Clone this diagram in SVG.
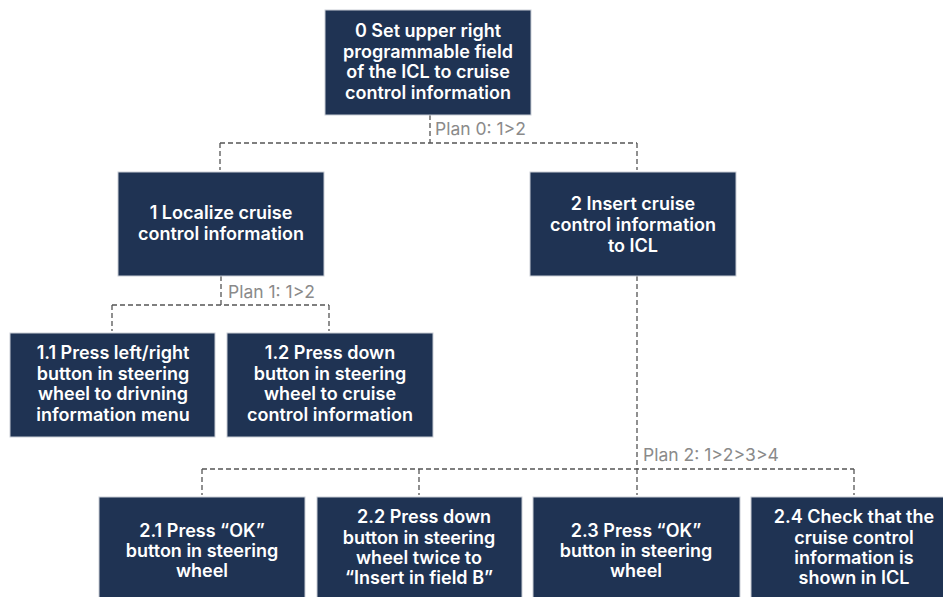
<svg xmlns="http://www.w3.org/2000/svg" width="943" height="597" viewBox="0 0 943 597">
  <style>
    .box { fill: #1f3353; stroke: #c9ced6; stroke-width: 1; }
    .lbl { font-family: Inter, "Liberation Sans", sans-serif; font-weight: 600; font-size: 18px; fill: #ffffff; text-anchor: middle; }
    .plan { font-family: Inter, "Liberation Sans", sans-serif; font-size: 17.5px; fill: #8a8a8a; }
    .conn { fill: none; stroke: #555555; stroke-width: 1.3; stroke-dasharray: 5 3; }
  </style>
  <rect width="943" height="597" fill="#ffffff"/>

  <g id="connectors">
    <!-- plan 0 -->
    <path class="conn" d="M430 115 V143 M220 143 H637 M220 143 V170 M637 143 V170"/>
    <!-- plan 1 -->
    <path class="conn" d="M221 276 V305 M112 305 H329 M112 305 V331 M329 305 V331"/>
    <!-- plan 2 -->
    <path class="conn" d="M637 276 V469 M202 469 H854 M202 469 V495 M419 469 V495 M637 469 V495 M854 469 V495"/>
  </g>

  <g id="plans">
    <text class="plan" x="435" y="135">Plan 0: 1&gt;2</text>
    <text class="plan" x="228" y="298">Plan 1: 1&gt;2</text>
    <text class="plan" x="643" y="461">Plan 2: 1&gt;2&gt;3&gt;4</text>
  </g>

  <g id="n0">
    <rect class="box" x="325" y="10" width="206" height="105"/>
    <text class="lbl" x="428" y="37">0 Set upper right</text>
    <text class="lbl" x="428" y="58">programmable field</text>
    <text class="lbl" x="428" y="78">of the ICL to cruise</text>
    <text class="lbl" x="428" y="99">control information</text>
  </g>

  <g id="n1">
    <rect class="box" x="118" y="172" width="206" height="104"/>
    <text class="lbl" x="221" y="219">1 Localize cruise</text>
    <text class="lbl" x="221" y="240">control information</text>
  </g>

  <g id="n2">
    <rect class="box" x="530" y="172" width="206" height="104"/>
    <text class="lbl" x="633" y="210">2 Insert cruise</text>
    <text class="lbl" x="633" y="231">control information</text>
    <text class="lbl" x="633" y="252">to ICL</text>
  </g>

  <g id="n1_1">
    <rect class="box" x="10" y="333" width="205" height="104"/>
    <text class="lbl" x="113" y="359">1.1 Press left/right</text>
    <text class="lbl" x="113" y="380">button in steering</text>
    <text class="lbl" x="113" y="400">wheel to drivning</text>
    <text class="lbl" x="113" y="421">information menu</text>
  </g>

  <g id="n1_2">
    <rect class="box" x="227" y="333" width="206" height="104"/>
    <text class="lbl" x="330" y="359">1.2 Press down</text>
    <text class="lbl" x="330" y="380">button in steering</text>
    <text class="lbl" x="330" y="400">wheel to cruise</text>
    <text class="lbl" x="330" y="421">control information</text>
  </g>

  <g id="n2_1">
    <rect class="box" x="99" y="497" width="206" height="110"/>
    <text class="lbl" x="202" y="537">2.1 Press “OK”</text>
    <text class="lbl" x="202" y="557">button in steering</text>
    <text class="lbl" x="202" y="577">wheel</text>
  </g>

  <g id="n2_2">
    <rect class="box" x="317" y="497" width="205" height="110"/>
    <text class="lbl" x="424" y="523">2.2 Press down</text>
    <text class="lbl" x="419" y="544">button in steering</text>
    <text class="lbl" x="419" y="564">wheel twice to</text>
    <text class="lbl" x="419" y="584">“Insert in field B”</text>
  </g>

  <g id="n2_3">
    <rect class="box" x="533" y="497" width="207" height="110"/>
    <text class="lbl" x="636" y="537">2.3 Press “OK”</text>
    <text class="lbl" x="636" y="557">button in steering</text>
    <text class="lbl" x="636" y="577">wheel</text>
  </g>

  <g id="n2_4">
    <rect class="box" x="751" y="497" width="207" height="110"/>
    <text class="lbl" x="854" y="523">2.4 Check that the</text>
    <text class="lbl" x="854" y="544">cruise control</text>
    <text class="lbl" x="854" y="564">information is</text>
    <text class="lbl" x="854" y="584">shown in ICL</text>
  </g>
</svg>
